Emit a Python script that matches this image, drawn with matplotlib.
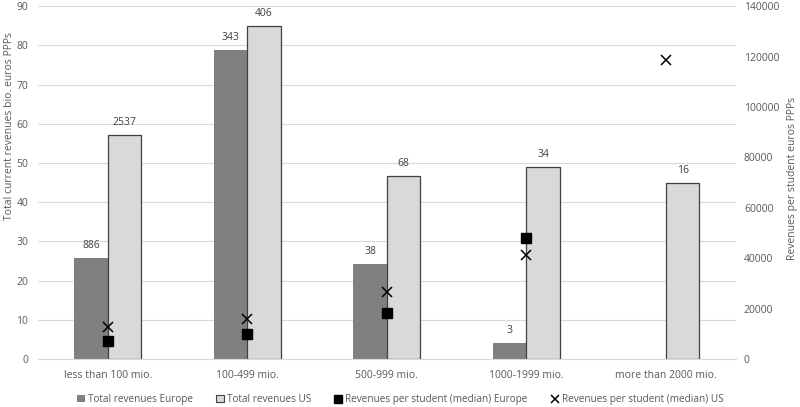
import matplotlib
matplotlib.use("Agg")
import matplotlib.pyplot as plt
import numpy as np
from matplotlib.patches import Patch
from matplotlib.lines import Line2D

# data
categories = ["less than 100 mio.", "100-499 mio.", "500-999 mio.", "1000-1999 mio.", "more than 2000 mio."]
rev_europe = [25.8, 78.8, 24.3, 4.0, np.nan]
rev_us = [57.1, 85.0, 46.6, 49.0, 45.0]
count_europe = ["886", "343", "38", "3", ""]
count_us = ["2537", "406", "68", "34", "16"]
per_student_europe = [7100, 9900, 18400, 48100, np.nan]
per_student_us = [12700, 15900, 26600, 41100, 118500]

plt.rcParams['font.family'] = ['Open Sans', 'DejaVu Sans']
txt = '#595959'

fig = plt.figure(figsize=(8, 4.07), dpi=100)
ax = fig.add_axes([0.0475, 0.118, 0.872, 0.867])
ax2 = ax.twinx()

x = np.arange(len(categories))
w = 0.24

# bars on the left axis
ax.bar(x - w/2, rev_europe, w, color='#808080', edgecolor='none', zorder=2)
ax.bar(x + w/2, rev_us, w, color='#d9d9d9', edgecolor='#404040', linewidth=0.9, zorder=2)

# counts above bars
for i in range(len(categories)):
    if count_europe[i]:
        ax.annotate(count_europe[i], (x[i] - w/2, rev_europe[i]), xytext=(0, 5),
                    textcoords='offset points', ha='center', va='bottom', fontsize=7.5, color='#404040')
    ax.annotate(count_us[i], (x[i] + w/2, rev_us[i]), xytext=(0, 5),
                textcoords='offset points', ha='center', va='bottom', fontsize=7.5, color='#404040')

ax.set_ylim(0, 90)
ax.set_yticks(range(0, 91, 10))
ax.set_xlim(-0.5, len(categories) - 0.5)
ax.set_xticks(x)
ax.set_xticklabels(categories)
ax.yaxis.grid(True, color='#d9d9d9', linewidth=0.8, zorder=0)
ax.set_axisbelow(True)

# medians per student on the right axis
ax2.plot(x, per_student_europe, 's', color='black', markersize=7, linestyle='none', zorder=3)
ax2.plot(x, per_student_us, 'x', color='black', markersize=7.5, markeredgewidth=1.1, linestyle='none', zorder=3)
ax2.set_ylim(0, 140000)
ax2.set_yticks(range(0, 140001, 20000))

for a in (ax, ax2):
    for s in a.spines.values():
        s.set_visible(False)
    a.tick_params(length=0, colors=txt, labelsize=7.5)
ax.spines['bottom'].set_visible(True)
ax.spines['bottom'].set_color('#d9d9d9')
ax.tick_params(axis='x', pad=8)
ax.tick_params(axis='y', pad=7)
ax2.tick_params(axis='y', pad=6)

# axis titles sit off-centre, as in the original
ax.set_ylabel("Total current revenues bio. euros PPPs", fontsize=7.5, color=txt)
ax2.set_ylabel("Revenues per student euros PPPs", fontsize=7.5, color=txt)
ax.yaxis.set_label_coords(-0.033, 0.66)
ax2.yaxis.set_label_coords(1.074, 0.513)

handles = [
    Patch(facecolor='#808080', edgecolor='none'),
    Patch(facecolor='#d9d9d9', edgecolor='#404040', linewidth=0.8),
    Line2D([], [], marker='s', color='black', linestyle='none', markersize=6),
    Line2D([], [], marker='x', color='black', linestyle='none', markersize=6, markeredgewidth=1.1),
]
labels = ["Total revenues Europe", "Total revenues US",
          "Revenues per student (median) Europe", "Revenues per student (median) US"]
fig.legend(handles, labels, loc='lower center', bbox_to_anchor=(0.5, -0.018), ncol=4, frameon=False,
           fontsize=7.2, labelcolor=txt, handlelength=0.8, handletextpad=0.3, columnspacing=2.3)

fig.savefig("out.png", dpi=100)
